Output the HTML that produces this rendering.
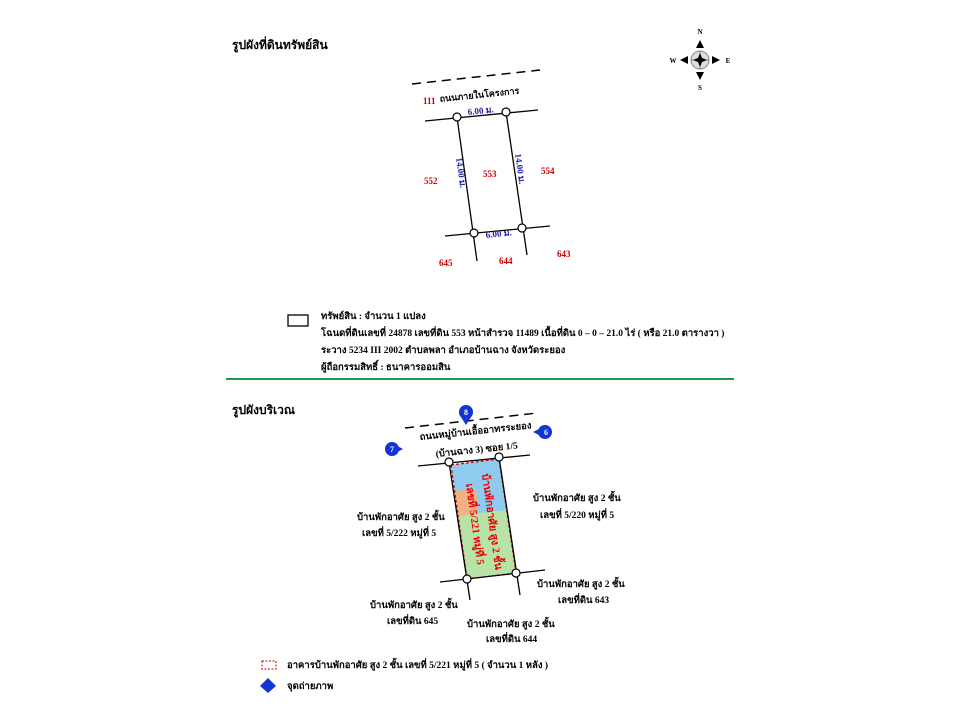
<!DOCTYPE html>
<html><head><meta charset="utf-8"><style>
html,body{margin:0;padding:0;background:#fff;width:960px;height:720px;overflow:hidden}
svg text{font-family:"Liberation Serif","DejaVu Serif",serif;font-weight:bold}
</style></head><body>
<svg width="960" height="720" viewBox="0 0 960 720" xmlns="http://www.w3.org/2000/svg">
<text x="232" y="49" font-size="12">รูปผังที่ดินทรัพย์สิน</text>
<g transform="translate(700,60)">
<circle r="9" fill="#ddd" stroke="#888" stroke-width="1"/>
<line x1="-9" y1="0" x2="9" y2="0" stroke="#888"/><line x1="0" y1="-9" x2="0" y2="9" stroke="#888"/>
<polygon points="0,-7 2,-2 7,0 2,2 0,7 -2,2 -7,0 -2,-2" fill="#000"/>
<polygon points="0,-20 -4,-12 4,-12" fill="#000"/><polygon points="0,20 -4,12 4,12" fill="#000"/>
<polygon points="-20,0 -12,-4 -12,4" fill="#000"/><polygon points="20,0 12,-4 12,4" fill="#000"/>
<text x="0" y="-26" font-size="7" text-anchor="middle" font-family="Liberation Sans" font-weight="normal">N</text>
<text x="0" y="30" font-size="7" text-anchor="middle" font-family="Liberation Sans" font-weight="normal">S</text>
<text x="-27" y="3" font-size="7" text-anchor="middle" font-family="Liberation Sans" font-weight="normal">W</text>
<text x="28" y="3" font-size="7" text-anchor="middle" font-family="Liberation Sans" font-weight="normal">E</text>
</g>
<line x1="412" y1="84" x2="540" y2="70" stroke="#000" stroke-width="1.5" stroke-dasharray="9,6"/>
<text x="423" y="104" font-size="9" fill="#c00" font-weight="normal">111</text>
<text x="440" y="102" font-size="9" transform="rotate(-6 440 102)">ถนนภายในโครงการ</text>
<g stroke="#000" stroke-width="1.3">
<line x1="425" y1="121" x2="538" y2="110"/>
<line x1="457" y1="117" x2="477" y2="261"/>
<line x1="506" y1="112" x2="527" y2="255"/>
<line x1="445" y1="236" x2="550" y2="226"/>
</g>
<g fill="#fff" stroke="#000" stroke-width="1.2">
<circle cx="457" cy="117" r="4"/><circle cx="506" cy="112" r="4"/>
<circle cx="474" cy="233" r="4"/><circle cx="522" cy="228" r="4"/>
</g>
<g font-size="9" font-weight="normal">
<text x="468" y="115" fill="#22a" transform="rotate(-6 468 115)">6.00 ม.</text>
<text x="486" y="238" fill="#22a" transform="rotate(-6 486 238)">6.00 ม.</text>
<text x="456" y="158" fill="#22a" transform="rotate(82 456 158)">14.00 ม.</text>
<text x="515" y="154" fill="#22a" transform="rotate(82 515 154)">14.00 ม.</text>
<text x="483" y="177" fill="#c00">553</text>
<text x="424" y="184" fill="#c00">552</text>
<text x="541" y="174" fill="#c00">554</text>
<text x="439" y="266" fill="#c00">645</text>
<text x="499" y="264" fill="#c00">644</text>
<text x="557" y="257" fill="#c00">643</text>
</g>
<rect x="288" y="315" width="20" height="11" fill="none" stroke="#000" stroke-width="1.3"/>
<g font-size="9.5">
<text x="321" y="319">ทรัพย์สิน : จำนวน 1 แปลง</text>
<text x="321" y="336">โฉนดที่ดินเลขที่ 24878 เลขที่ดิน 553 หน้าสำรวจ 11489 เนื้อที่ดิน 0 – 0 – 21.0 ไร่ ( หรือ 21.0 ตารางวา )</text>
<text x="321" y="353">ระวาง 5234 III 2002 ตำบลพลา อำเภอบ้านฉาง จังหวัดระยอง</text>
<text x="321" y="370">ผู้ถือกรรมสิทธิ์ : ธนาคารออมสิน</text>
</g>
<line x1="226" y1="379" x2="734" y2="379" stroke="#1a9a4a" stroke-width="2"/>
<text x="232" y="414" font-size="12">รูปผังบริเวณ</text>
<line x1="405" y1="428" x2="537" y2="413" stroke="#000" stroke-width="1.5" stroke-dasharray="9,6"/>
<polygon points="451,465 499,459 516,573 467,579" fill="#b7e3a6"/>
<polygon points="451,465 499,459 507,510 478,513 476,489 455,491" fill="#8ecbef"/>
<polygon points="455,491 476,489 478,513 459,516" fill="#f2b183"/>
<polygon points="451,465 499,459 516,573 467,579" fill="none" stroke="#c00" stroke-width="1.2" stroke-dasharray="3,2"/>
<g stroke="#000" stroke-width="1.3">
<line x1="418" y1="466" x2="530" y2="455"/>
<line x1="449" y1="462" x2="470" y2="600"/>
<line x1="499" y1="457" x2="520" y2="595"/>
<line x1="440" y1="582" x2="545" y2="570"/>
</g>
<g fill="#fff" stroke="#000" stroke-width="1.2">
<circle cx="449" cy="462" r="4"/><circle cx="499" cy="457" r="4"/>
<circle cx="467" cy="579" r="4"/><circle cx="516" cy="573" r="4"/>
</g>
<text x="482" y="474" font-size="10.5" fill="#e00" transform="rotate(82 482 474)">บ้านพักอาศัย สูง 2 ชั้น</text>
<text x="466" y="484" font-size="10.5" fill="#e00" transform="rotate(82 466 484)">เลขที่ 5/221 หมู่ที่ 5</text>
<g font-size="9.5">
<text x="420" y="440" transform="rotate(-6 420 440)">ถนนหมู่บ้านเอื้ออาทรระยอง</text>
<text x="436" y="457" transform="rotate(-6 436 457)">(บ้านฉาง 3) ซอย 1/5</text>
<text x="357" y="520">บ้านพักอาศัย สูง 2 ชั้น</text>
<text x="362" y="536">เลขที่ 5/222 หมู่ที่ 5</text>
<text x="533" y="501">บ้านพักอาศัย สูง 2 ชั้น</text>
<text x="540" y="518">เลขที่ 5/220 หมู่ที่ 5</text>
<text x="537" y="587">บ้านพักอาศัย สูง 2 ชั้น</text>
<text x="558" y="603">เลขที่ดิน 643</text>
<text x="370" y="608">บ้านพักอาศัย สูง 2 ชั้น</text>
<text x="387" y="624">เลขที่ดิน 645</text>
<text x="467" y="627">บ้านพักอาศัย สูง 2 ชั้น</text>
<text x="486" y="642">เลขที่ดิน 644</text>
</g>
<g fill="#1235d4">
<circle cx="466" cy="412" r="7"/><polygon points="459,414 473,414 466,425"/>
<circle cx="392" cy="449" r="7"/><polygon points="390,442 390,456 403,449"/>
<circle cx="545" cy="432" r="7"/><polygon points="547,425 547,439 533,432"/>
</g>
<g font-size="8" fill="#fff" text-anchor="middle" font-family="Liberation Sans">
<text x="466" y="415">8</text><text x="392" y="452">7</text><text x="546" y="435">6</text>
</g>
<rect x="262" y="661" width="14" height="8" fill="none" stroke="#c00" stroke-dasharray="2,1.5"/>
<text x="287" y="668" font-size="9.5">อาคารบ้านพักอาศัย สูง 2 ชั้น เลขที่ 5/221 หมู่ที่ 5 ( จำนวน 1 หลัง )</text>
<polygon points="268,678 276,686 268,693 260,686" fill="#1235d4"/>
<text x="287" y="689" font-size="9.5">จุดถ่ายภาพ</text>
</svg>
</body></html>
